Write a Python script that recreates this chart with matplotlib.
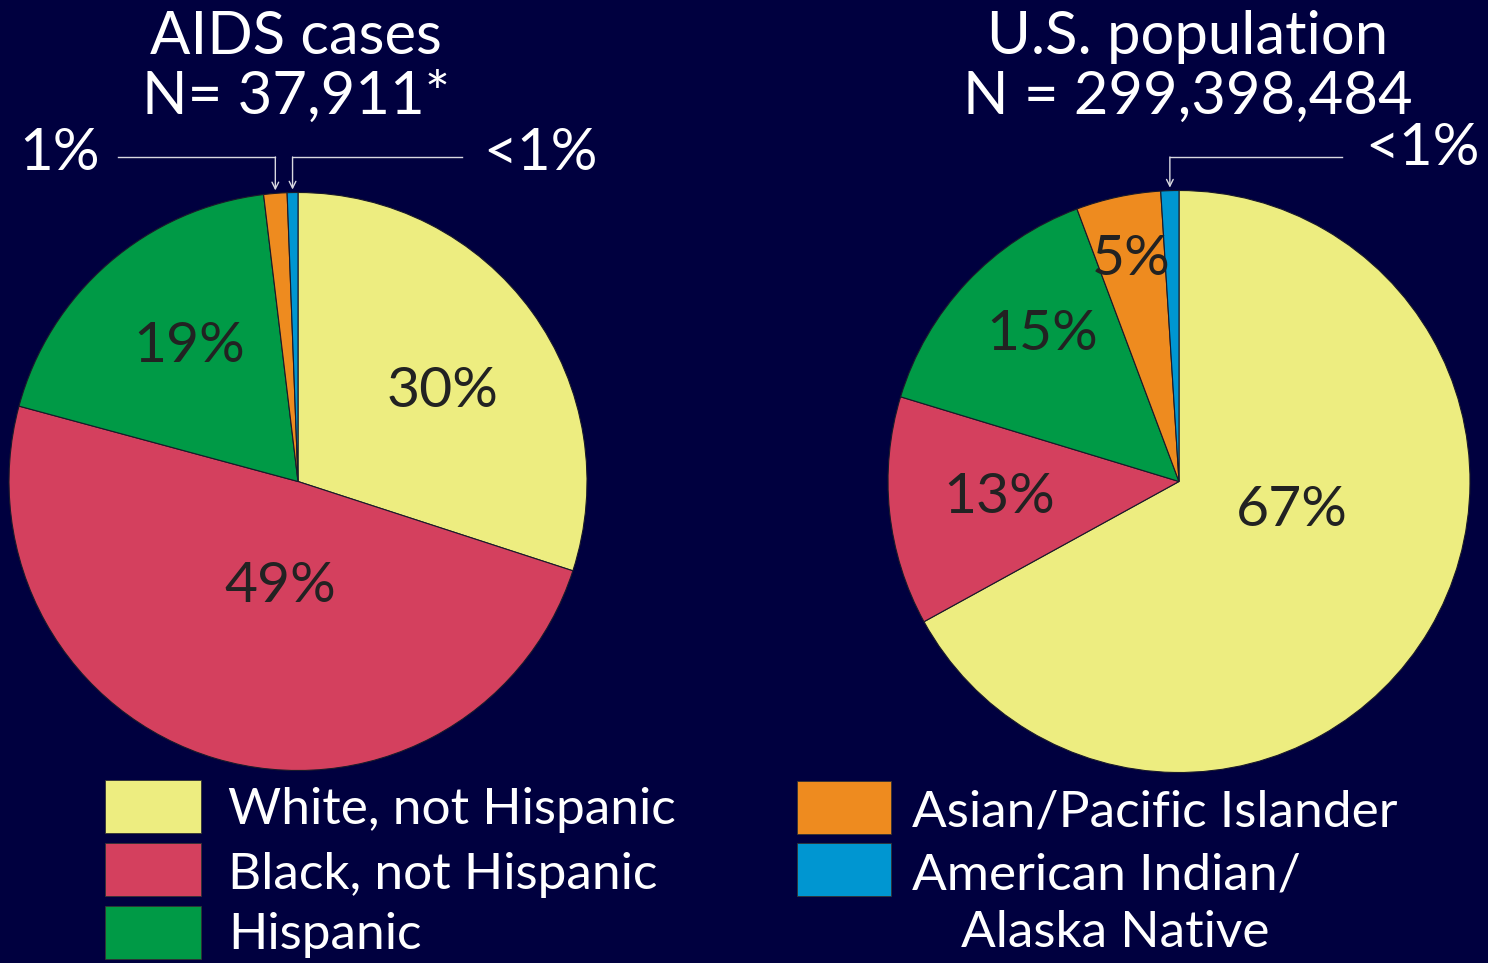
import numpy as np
import matplotlib
matplotlib.use("Agg")
import matplotlib.pyplot as plt
from matplotlib.patches import Rectangle

# ---------------- data ----------------
categories = ["White, not Hispanic", "Black, not Hispanic", "Hispanic",
              "Asian/Pacific Islander", "American Indian/\nAlaska Native"]
aids_values = [30.0, 49.2, 18.9, 1.3, 0.6]
pop_values = [67.0, 12.7, 14.6, 4.7, 1.0]
aids_labels = ["30%", "49%", "19%", "1%", "<1%"]
pop_labels = ["67%", "13%", "15%", "5%", "<1%"]
aids_title = ["AIDS cases", "N= 37,911*"]
pop_title = ["U.S. population", "N = 299,398,484"]

# ---------------- style ----------------
colors = ["#EDED80", "#D4405E", "#009A46", "#EE8B1F", "#0096D1"]
BG = "#00003F"
FONT = "Lato"
WEIGHT = "normal"
W, H = 1488, 963

fig = plt.figure(figsize=(W / 100, H / 100), dpi=100, facecolor=BG)
ax = fig.add_axes([0, 0, 1, 1])
ax.set_facecolor(BG)

def py(y):  # pixel row from top -> data y
    return H - y

def draw_pie(values, labels, center, radius, inner, callouts):
    wedges, _ = ax.pie(values, colors=colors, startangle=90, counterclock=False,
                       center=center, radius=radius,
                       wedgeprops=dict(edgecolor="#1a1a2a", linewidth=0.8))
    for i, w in enumerate(wedges):
        mid = 0.5 * (w.theta1 + w.theta2)
        if i in inner:
            frac, off = inner[i]
            a = np.deg2rad(mid + off)
            ax.text(center[0] + frac * radius * np.cos(a),
                    center[1] + frac * radius * np.sin(a),
                    labels[i], ha="center", va="center", fontsize=41,
                    color="#222222", family=FONT, fontweight=WEIGHT)
        if i in callouts:
            (line_end, text_x, ha, text_y) = callouts[i]
            a = np.deg2rad(mid)
            tipx = center[0] + radius * np.cos(a)
            tipy = center[1] + radius * np.sin(a) + 3
            ly = py(157)
            ax.plot([tipx, line_end], [ly, ly], color="#d8d8e0", lw=1.0)
            ax.annotate("", xy=(tipx, tipy), xytext=(tipx, ly),
                        arrowprops=dict(arrowstyle="->", color="#d8d8e0", lw=1.0,
                                        shrinkA=0, shrinkB=0, mutation_scale=12))
            ax.text(text_x, py(text_y), labels[i], ha=ha, va="center",
                    fontsize=42, color="white", family=FONT, fontweight=WEIGHT)

left_c = (298, py(481.5))
right_c = (1179, py(481.5))

draw_pie(aids_values, aids_labels, left_c, 289,
         {0: (0.59, -4), 1: (0.37, 7), 2: (0.6, -2)},
         {3: (118, 100, "right", 153), 4: (462, 483, "left", 153)})
draw_pie(pop_values, pop_labels, right_c, 291,
         {0: (0.40, 16), 1: (0.62, -1), 2: (0.69, -4), 3: (0.78, 0)},
         {4: (1342, 1365, "left", 148)})

# titles
for x, lines in ((296, aids_title), (1188, pop_title)):
    for y, t in zip((37, 97), lines):
        ax.text(x, py(y), t, ha="center", va="center", fontsize=43,
                color="white", family=FONT, fontweight=WEIGHT)

# legend
legend_pos = [(105, 780, 228, 810), (105, 843, 228, 875), (105, 906, 228, 935),
              (797, 781, 912, 812), (797, 843, 912, 875)]
for i, (bx, by, tx, ty) in enumerate(legend_pos):
    ax.add_patch(Rectangle((bx, py(by + 53)), 96 if i < 3 else 94, 53,
                           facecolor=colors[i], edgecolor="#333333", lw=0.6))
    lines = categories[i].split("\n")
    ax.text(tx, py(ty), lines[0], ha="left", va="center", fontsize=37,
            color="white", family=FONT, fontweight=WEIGHT)
    if len(lines) > 1:
        ax.text(1115, py(ty + 58), lines[1], ha="center", va="center",
                fontsize=37, color="white", family=FONT, fontweight=WEIGHT)

ax.set_xlim(0, W)
ax.set_ylim(0, H)
ax.set_aspect("equal")
ax.axis("off")
fig.savefig("out.png", dpi=100, facecolor=BG)
